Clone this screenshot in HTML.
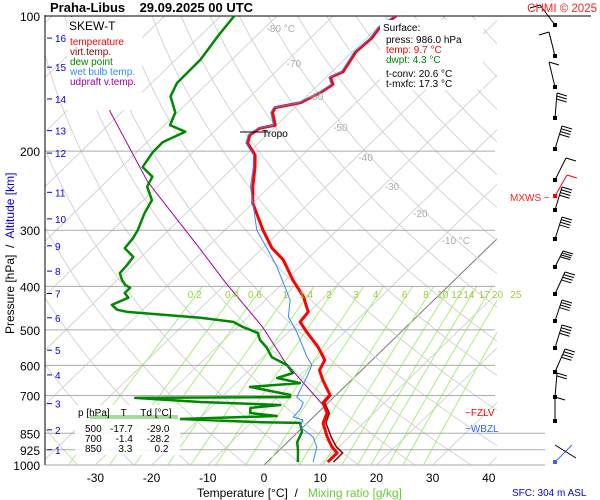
<!DOCTYPE html>
<html><head><meta charset="utf-8"><style>
html,body{margin:0;padding:0;background:#fff}
svg{display:block;font-family:"Liberation Sans",sans-serif}
</style></head><body>
<svg id="c" width="600" height="500" viewBox="0 0 600 500" xmlns="http://www.w3.org/2000/svg">
<defs><clipPath id="plot"><rect x="45" y="15" width="452" height="450"/></clipPath></defs>
<rect width="600" height="500" fill="#fff"/>
<g id="grid" clip-path="url(#plot)"></g>
<g id="isobars"></g>
<g id="profiles"></g>
<g id="labels"></g>
</svg>
<script>
// ---- data ----
const isobarLevels=[100,200,300,400,500,600,700,850,925,1000];
const tempTicks=[-30,-20,-10,0,10,20,30,40];
const isothermLabels=["-80 °C","-70","-60","-50","-40","-30","-20","-10 °C"];
const isothermLabelT=[-80,-70,-60,-50,-40,-30,-20,-10];
const mixRatios=[0.2,0.4,0.6,1,1.4,2,3,4,6,8,10,12,14,17,20,25];
const altKm=[1,2,3,4,5,6,7,8,9,10,11,12,13,14,15,16];
const altP=[925,835,730,630,555,470,415,370,325,283,247,202,180,153,130,112];
const tempP=[985,940,912,866,806,766,727,698,647,615,584,546,508,480,456,422,387,349,329,300,261,240,217,204,192,184,178,175,164,160,156,148,142,137,133,120,112,106,100];
const tempT=[10.8,10.8,8.8,6.1,2.8,1.7,-0.9,-1.1,-5.1,-7.5,-8.4,-12.0,-16.5,-19.8,-20.2,-23.8,-28.8,-34.2,-38.3,-43.2,-50.0,-53.0,-56.2,-58.4,-61.9,-63.0,-62.5,-60.3,-63.1,-63.5,-59.9,-58.2,-57.5,-59.2,-58.0,-59.4,-59.1,-59.6,-58.8];
const dewP=[985,926,889,844,806,803,790,778,766,746,735,724,709,706,698,670,657,640,624,599,575,549,527,508,493,480,470,466,456,451,440,424,414,403,397,387,374,359,344,329,312,300,275,257,240,228,217,201,191,181,175,164,151,141,125,111,100];
const dewT=[5.5,3.3,1.7,0.7,-1.3,-8.4,-23.4,-6.7,-12.0,-12.9,-8.1,-22.9,-35.2,-7.8,-8.2,-16.8,-8.6,-13.6,-11.7,-14.2,-18.4,-20.9,-23.6,-25.3,-29.0,-31.7,-38.3,-42.2,-52.4,-54.6,-56.4,-54.8,-56.3,-56.3,-57.7,-59.2,-60.8,-61.0,-61.4,-64.5,-64.9,-65.5,-67.4,-68.5,-71.8,-72.7,-76.2,-77.1,-77.2,-75.1,-79.0,-80.4,-84.2,-85.5,-85.6,-86.8,-87.6];
const wbP=[985,912,866,823,794,782,754,727,706,681,637,599,575,508,468,429,362,332,300,240,217,204,192,184,178,175,164,160,156,148,142,137,133,120,112,106,100];
const wbT=[8.2,6.1,3.6,-0.6,-1.3,-3.6,-3.7,-4.4,-6.6,-7.3,-8.5,-9.8,-12.1,-18.3,-22.8,-25.6,-34.0,-38.7,-44.3,-53.4,-56.5,-58.7,-62.2,-63.3,-62.8,-60.6,-63.4,-63.8,-60.2,-58.5,-57.8,-59.5,-58.3,-59.7,-59.4,-59.9,-59.1];
const vtP=[985,940,912,866,806,766,727,698];
const vtT=[11.8,11.8,9.6,6.8,3.3,2.1,-0.6,-0.9];
const upP=[743,590,493,391,329,234,164,100];
const upT=[0.2,-15.1,-25.5,-40.5,-51.2,-72.6,-91.9,-116.6];
const barbY=[25,56,87,118,149,180,196,210,239,267,294,321,348,372,397,421];
const barbDx=[-15,-6,-6,2,7,11,12,7,7,8,10,7,7,10,2,0];
const barbDy=[-20,-24,-25,-25,-23,-22,-21,-23,-22,-16,-22,-21,-23,-23,-24,-24];
const barbN=[1,1,1,3,4,1,1,4,4,4,4,4,4,4,2,1];
// ---- scales ----
const X0=264,PX=5.62,SK=1.03,Y1000=465,YH=449;
function yP(p){return Y1000-YH*Math.log10(1000/p);}
function xT(T,p){return X0+PX*T+SK*(Y1000-yP(p));}
const NS="http://www.w3.org/2000/svg";
function mk(tag,attrs,parent){const e=document.createElementNS(NS,tag);for(const k in attrs)e.setAttribute(k,attrs[k]);parent.appendChild(e);return e;}
const grid=document.getElementById('grid'),iso=document.getElementById('isobars'),prof=document.getElementById('profiles'),lab=document.getElementById('labels');
function path(ps,ts){let d='';for(let i=0;i<ps.length;i++)d+=(i?'L':'M')+xT(ts[i],ps[i]).toFixed(1)+','+yP(ps[i]).toFixed(1);return d;}
for(let T=-160;T<=50;T+=10){
  const l=mk('line',{x1:xT(T,1000),y1:yP(1000),x2:xT(T,100),y2:yP(100),stroke:T===0?'#777':'#d4d4d4','stroke-width':1},grid);
  
  
}
for(let th=230;th<=500;th+=10){
  let d='';
  for(let p=1000;p>=100;p-=10){const T=th*Math.pow(p/1000,0.2857)-273.15;d+=(p===1000?'M':'L')+xT(T,p).toFixed(1)+','+yP(p).toFixed(1);}
  const e=mk('path',{d:d,fill:'none',stroke:'#d4d4d4','stroke-width':1},grid);
  
  
}
function tdFromW(w,p){const e=w*p/(622+w);const a=Math.log(e/6.112);return 243.5*a/(17.67-a);}
mixRatios.forEach(w=>{
  let d='';
  for(let p=1000;p>=400;p-=10){d+=(p===1000?'M':'L')+xT(tdFromW(w,p),p).toFixed(1)+','+yP(p).toFixed(1);}
  const e=mk('path',{d:d,fill:'none',stroke:'#a6f07a','stroke-width':1},grid);
  
  
  const t=mk('text',{x:xT(tdFromW(w,400),400)-8,y:298,'font-size':10,fill:'#99cc44','text-anchor':'middle'},lab);
  t.textContent=String(w);
  
  
});
isobarLevels.forEach(p=>{
  const y=yP(p);
  const x2=p>=850?545:495;
  const l=mk('line',{x1:45,y1:y,x2:p===100?591:x2,y2:y,stroke:p===100?'#000':'#aaa','stroke-width':1},iso);
  
  
  const t=mk('text',{x:40,y:y+5,'font-size':12,'text-anchor':'end',fill:'#000'},lab);
  t.textContent=String(p);
  
  
});
const ax=mk('line',{x1:45,y1:15,x2:45,y2:465,stroke:'#000'},iso);


altKm.forEach((k,i)=>{
  const y=yP(altP[i]);
  const l=mk('line',{x1:47,y1:y,x2:52,y2:y,stroke:'#0000ee'},lab);
  
  
  const t=mk('text',{x:55,y:y+4,'font-size':10,fill:'#0000ee'},lab);
  t.textContent=String(k);
  
  
});
tempTicks.forEach(T=>{
  const t=mk('text',{x:xT(T,1000),y:482,'font-size':12,'text-anchor':'middle'},lab);
  t.textContent=String(T);
  
  
});
const isoLabY=[28,63,96,127,157,186,213,240];
isothermLabels.forEach((s,i)=>{
  const y=isoLabY[i];const p=1000*Math.pow(10,-(Y1000-y)/YH);
  const t=mk('text',{x:xT(isothermLabelT[i],p)+2,y:y+4,'font-size':10,fill:'#aaa'},lab);
  t.textContent=s;
  
  
});
function line(ps,ts,color,w,name){const e=mk('path',{d:path(ps,ts),fill:'none',stroke:color,'stroke-width':w,'stroke-linejoin':'round'},prof);}
line(upP,upT,'#a000a0',1,'updraft-virtual-temp-line');
line(dewP,dewT,'#008800',2.5,'dew-point-line');
line(vtP,vtT,'#8b0000',1.5,'virtual-temp-line');
line(tempP,tempT,'#ff0000',3,'temperature-line');
line(wbP,wbT,'#3388ff',1,'wet-bulb-line');
barbY.forEach((y,i)=>{
  const col=i===6?'#ff0000':'#000';
  const x=555,tx=x+barbDx[i],ty=y+barbDy[i];
  const s=mk('line',{x1:x,y1:y,x2:tx,y2:ty,stroke:col,'stroke-width':1},lab);
  
  
  mk('rect',{x:x-2,y:y-2,width:4,height:4,fill:col},lab);
  for(let k=0;k<barbN[i];k++){
    const f=k*0.12;const bx=tx+(x-tx)*f,by=ty+(y-ty)*f;
    const dir=i<2?-1:1;
    const b=mk('line',{x1:bx,y1:by,x2:bx+10*dir,y2:by+3,stroke:col,'stroke-width':1},lab);
    
    
  }
});
</script>
<script>
const L=document.getElementById('labels');
L.insertAdjacentHTML('beforeend',`
<text x="50" y="12" font-size="13" font-weight="bold" xml:space="preserve">Praha-Libus    29.09.2025 00 UTC</text>
<text x="597" y="12" font-size="11.5" fill="#ff2020" text-anchor="end">CHMI © 2025</text>
<rect x="67" y="17" width="75" height="93" fill="#fff"/>
<text x="69" y="30" font-size="12">SKEW-T</text>
<text x="70" y="45" font-size="10" fill="#ff0000">temperature</text>
<text x="70" y="55" font-size="10" fill="#8b0000">virt.temp.</text>
<text x="70" y="65" font-size="10" fill="#008800">dew point</text>
<text x="70" y="75" font-size="10" fill="#3388ff">wet bulb temp.</text>
<text x="70" y="85" font-size="10" fill="#a000a0">udpraft v.temp.</text>
<rect x="380" y="20" width="103" height="70" fill="#fff"/>
<text x="383" y="31" font-size="10">Surface:</text>
<text x="386" y="43" font-size="10">press: 986.0 hPa</text>
<text x="386" y="53" font-size="10" fill="#ff0000">temp: 9.7 °C</text>
<text x="386" y="63" font-size="10" fill="#008800">dwpt: 4.3 °C</text>
<text x="386" y="77" font-size="10">t-conv: 20.6 °C</text>
<text x="386" y="87" font-size="10">t-mxfc: 17.3 °C</text>
<line x1="240" y1="132" x2="268" y2="132" stroke="#000"/>
<text x="262" y="137" font-size="10">Tropo</text>
<text x="510" y="201" font-size="10" fill="#ff2020">MXWS −</text>
<text x="465" y="416" font-size="10" fill="#ff0000">−FZLV</text>
<text x="465" y="432" font-size="10" fill="#3366ff">−WBZL</text>
<rect x="75" y="405" width="105" height="50" fill="#fff" fill-opacity="0.9"/>
<rect x="90" y="415" width="88" height="4" fill="#a8d8a0"/>
<text x="78" y="416" font-size="10" xml:space="preserve">p [hPa]    T     Td [°C]</text>
<text x="85" y="432" font-size="10" xml:space="preserve">500   -17.7     -29.0</text>
<text x="85" y="442" font-size="10" xml:space="preserve">700     -1.4     -28.2</text>
<text x="85" y="452" font-size="10" xml:space="preserve">850      3.3        0.2</text>
<text transform="translate(14,334) rotate(-90)" font-size="12" xml:space="preserve">Pressure [hPa]  /  <tspan fill="#0000ee">Altitude [km]</tspan></text>
<text x="197" y="497" font-size="12" xml:space="preserve">Temperature [°C]  /   <tspan fill="#66cc33">Mixing ratio [g/kg]</tspan></text>
<text x="512" y="496" font-size="10" fill="#0000ee">SFC: 304 m ASL</text>
<line x1="555" y1="462" x2="572" y2="445" stroke="#3366ff"/>
<line x1="555" y1="445" x2="576" y2="458" stroke="#000"/>
<rect x="553" y="460" width="4" height="4" fill="#3366ff"/>
`);
</script>
</body></html>
